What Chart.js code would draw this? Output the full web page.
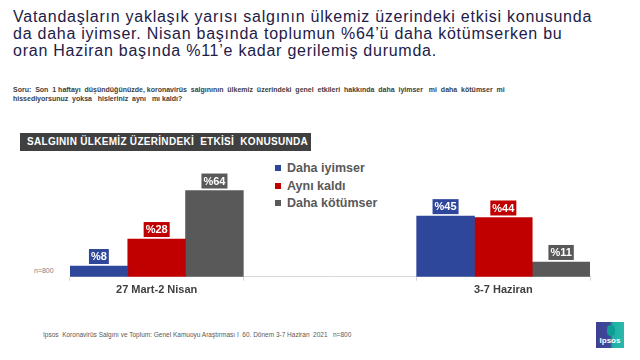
<!DOCTYPE html>
<html>
<head>
<meta charset="utf-8">
<script src="https://cdn.jsdelivr.net/npm/chart.js@4.4.0/dist/chart.umd.min.js"></script>
<style>
    body { margin: 0; width: 640px; height: 360px; background: #fff; position: relative; overflow: hidden;
           font-family: Arial, "Liberation Sans", sans-serif; }
    .abs { position: absolute; white-space: pre; }
    #headline { left: 13px; top: 8px; font-size: 16px; line-height: 17px; letter-spacing: 0.75px; color: #1e2048; }
    #question { left: 13px; top: 85px; font-size: 7px; line-height: 9px; font-weight: bold; color: #404040; }
    #band { left: 20px; top: 133px; width: 291px; height: 18px; background: #404040; color: #fff;
            font-size: 10px; font-weight: bold; line-height: 18px; padding-left: 7px; box-sizing: border-box;
            letter-spacing: 0.3px; }
    #legend { left: 275px; top: 160px; }
    .leg { height: 17.5px; line-height: 17.5px; font-size: 12.5px; font-weight: bold; color: #595959; }
    .leg span { display: inline-block; width: 6px; height: 6px; margin-right: 6px; vertical-align: 1px; }
    #nlabel { left: 34px; top: 267px; font-size: 7px; color: #7f7f7f; }
    #footer { left: 43px; top: 331px; font-size: 6.5px; color: #595959; }
    #logo { left: 596px; top: 322px; width: 28px; height: 26px;
            background: linear-gradient(90deg, #3d3f92 0%, #3d4a9a 50%, #20b0a5 60%, #2ab8aa 100%);
            color: #fff; font-size: 8px; font-weight: bold; text-align: center; }
    #logo .head { position: absolute; left: 11px; top: 3px; width: 8px; height: 11px; border-radius: 4px;
                  background: #0e9c94; }
    #logo .word { position: absolute; left: 0; width: 28px; top: 14px; }
    #chartBox { position: absolute; left: 0; top: 125px; width: 640px; height: 180px; }
</style>
</head>
<body>
<div id="headline" class="abs">Vatandaşların yaklaşık yarısı salgının ülkemiz üzerindeki etkisi konusunda
da daha iyimser. Nisan başında toplumun %64’ü daha kötümserken bu
oran Haziran başında %11’e kadar gerilemiş durumda.</div>
<div id="question" class="abs">Soru:  Son  1 haftayı  düşündüğünüzde, koronavirüs  salgınının  ülkemiz  üzerindeki  genel  etkileri  hakkında  daha  iyimser   mi  daha  kötümser  mi
hissediyorsunuz  yoksa   hisleriniz  aynı   mı kaldı?</div>
<div id="band" class="abs">SALGININ ÜLKEMİZ ÜZERİNDEKİ  ETKİSİ  KONUSUNDA</div>
<div id="legend" class="abs"></div>
<div id="nlabel" class="abs">n=800</div>
<div id="footer" class="abs">Ipsos  Koronavirüs Salgını ve Toplum: Genel Kamuoyu Araştırması I  60. Dönem 3-7 Haziran  2021   n=800</div>
<div id="logo" class="abs"><div class="head"></div><div class="word">Ipsos</div></div>
<div id="chartBox"><canvas id="barChart"></canvas></div>

<script>
// periods (middle one is an empty spacer slot, as in the original)
const periods = ['27 Mart-2 Nisan', '', '3-7 Haziran'];
const seriesNames = ['Daha iyimser', 'Aynı kaldı', 'Daha kötümser'];
const seriesColors = ['#2e479b', '#c00000', '#595959'];
const iyimser = [8, null, 45];
const ayni = [28, null, 44];
const kotumser = [64, null, 11];

// labels in coloured boxes above each bar
const boxLabels = {
    id: 'boxLabels',
    afterDatasetsDraw(chart) {
        const ctx = chart.ctx;
        ctx.save();
        ctx.font = 'bold 11px Arial, "Liberation Sans", sans-serif';
        ctx.textAlign = 'center';
        ctx.textBaseline = 'middle';
        chart.data.datasets.forEach((ds, i) => {
            chart.getDatasetMeta(i).data.forEach((bar, j) => {
                const v = ds.data[j];
                if (v === null) return;
                const txt = '%' + v;
                const w = ctx.measureText(txt).width + 4;
                const h = 15;
                const bottom = bar.y - 2;
                ctx.fillStyle = ds.backgroundColor;
                ctx.fillRect(bar.x - w / 2, bottom - h, w, h);
                ctx.fillStyle = '#fff';
                ctx.fillText(txt, bar.x, bottom - h / 2 + 0.5);
            });
        });
        ctx.restore();
    }
};

function buildLegend() {
    const box = document.getElementById('legend');
    seriesNames.forEach((name, i) => {
        const row = document.createElement('div');
        row.className = 'leg';
        row.innerHTML = '<span style="background:' + seriesColors[i] + '"></span>' + name;
        box.appendChild(row);
    });
}

function initChart() {
    const ctx = document.getElementById('barChart').getContext('2d');
    new Chart(ctx, {
        type: 'bar',
        data: {
            labels: periods,
            datasets: [iyimser, ayni, kotumser].map((d, i) => ({
                label: seriesNames[i],
                data: d,
                backgroundColor: seriesColors[i],
                categoryPercentage: 1,
                barPercentage: 1
            }))
        },
        options: {
            responsive: true,
            maintainAspectRatio: false,
            animation: false,
            layout: { padding: { left: 70, right: 50, top: 17, bottom: 5 } },
            plugins: { legend: { display: false }, tooltip: { enabled: false } },
            scales: {
                x: {
                    grid: { display: true, drawOnChartArea: false, drawTicks: true, tickLength: 4, color: '#d9d9d9' },
                    border: { color: '#d9d9d9' },
                    ticks: {
                        padding: 3,
                        color: '#404040',
                        font: { family: 'Arial, "Liberation Sans", sans-serif', size: 11, weight: 'bold' }
                    }
                },
                y: { display: false, min: 0, max: 100 }
            }
        },
        plugins: [boxLabels]
    });
}

buildLegend();
initChart();
</script>
</body>
</html>
